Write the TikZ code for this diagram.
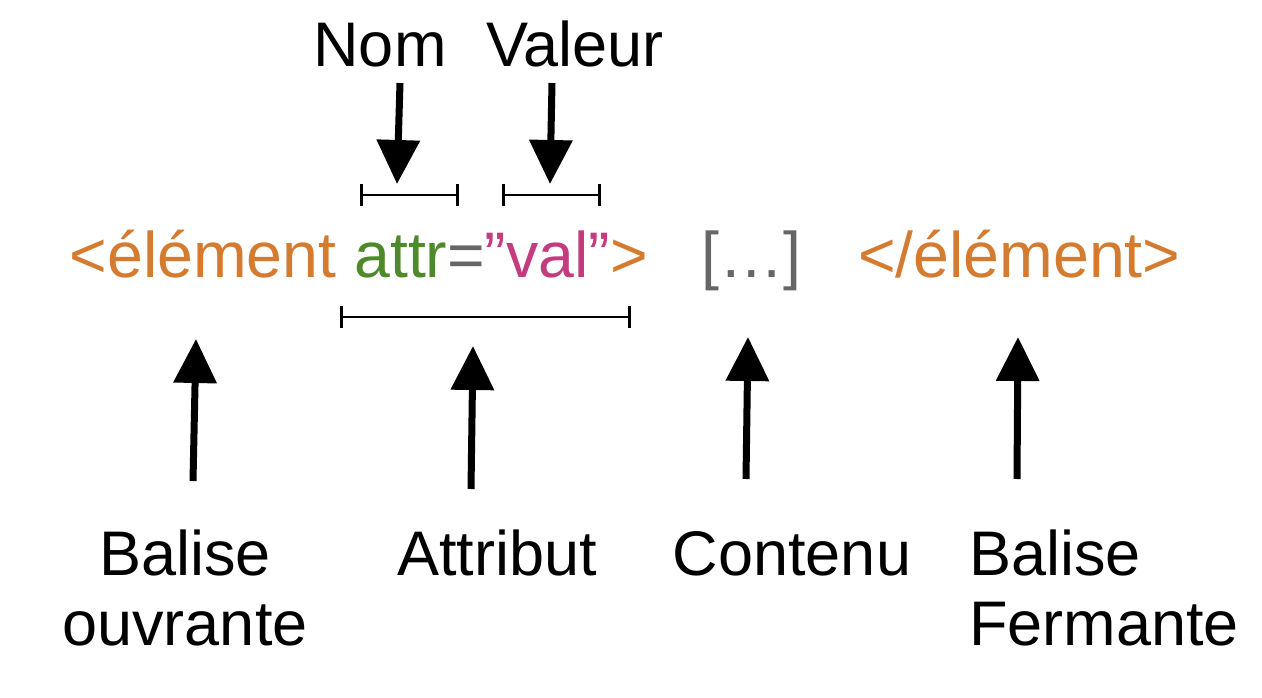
\documentclass[tikz,border=0pt]{standalone}
\usepackage{fontspec}
\setmainfont{Liberation Sans}
\usetikzlibrary{arrows.meta}
\definecolor{tagorange}{HTML}{D47B2F}
\definecolor{attrgreen}{HTML}{4F8A2A}
\definecolor{valpink}{HTML}{C43C7E}
\definecolor{midgray}{HTML}{666666}
\tikzset{
  codetext/.style={inner sep=0pt, anchor=base west, font=\fontsize{64.4}{70}\selectfont},
  labeltext/.style={inner sep=0pt, anchor=base, font=\fontsize{63}{70}\selectfont},
  bigarrow/.style={line width=7pt, -{Triangle[width=42pt,length=44pt]}},
  spanbar/.style={line width=2.2pt, {Bar[width=22pt,line width=3pt]}-{Bar[width=22pt,line width=3pt]}},
}
\begin{document}
\begin{tikzpicture}[x=1pt,y=-1pt]
\useasboundingbox (0,0) rectangle (1262,698);
% code line
\node[codetext] (open) at (69.5,277) {\color{tagorange}<élément \color{attrgreen}attr\color{midgray}=\color{valpink}”val”\color{tagorange}>};
\node[codetext, text=midgray] (content) at (701,277) {[…]};
\node[codetext, text=tagorange] (close) at (858,277) {</élément>};
% top labels
\node[labeltext] (nom) at (380,67) {Nom};
\node[labeltext] (valeur) at (575,67) {Valeur};
% span bars
\coordinate (nomL) at (360,195);
\coordinate (nomR) at (459,195);
\coordinate (valL) at (502,195);
\coordinate (valR) at (601,195);
\coordinate (attL) at (340,317);
\coordinate (attR) at (631,317);
\draw[spanbar] (nomL) -- (nomR);
\draw[spanbar] (valL) -- (valR);
\draw[spanbar] (attL) -- (attR);
% down arrows
\coordinate (nomA) at (400,83);
\coordinate (nomB) at (397,184);
\coordinate (valA) at (552,83);
\coordinate (valB) at (550,184);
\draw[bigarrow] (nomA) -- (nomB);
\draw[bigarrow] (valA) -- (valB);
% bottom labels
\node[labeltext, align=center, anchor=base] (ouvr) at (185,645) {Balise\\ouvrante};
\node[labeltext] (attrib) at (497,575) {Attribut};
\node[labeltext] (contenu) at (792,575) {Contenu};
\node[labeltext, align=left, anchor=base west] (ferm) at (969,645) {Balise\\Fermante};
% up arrows
\coordinate (a1) at (193,481);
\coordinate (b1) at (196,339);
\coordinate (a2) at (471,489);
\coordinate (b2) at (473,346);
\coordinate (a3) at (746,479);
\coordinate (b3) at (748,337);
\coordinate (a4) at (1017,479);
\coordinate (b4) at (1018,337);
\draw[bigarrow] (a1) -- (b1);
\draw[bigarrow] (a2) -- (b2);
\draw[bigarrow] (a3) -- (b3);
\draw[bigarrow] (a4) -- (b4);
\end{tikzpicture}
\end{document}
